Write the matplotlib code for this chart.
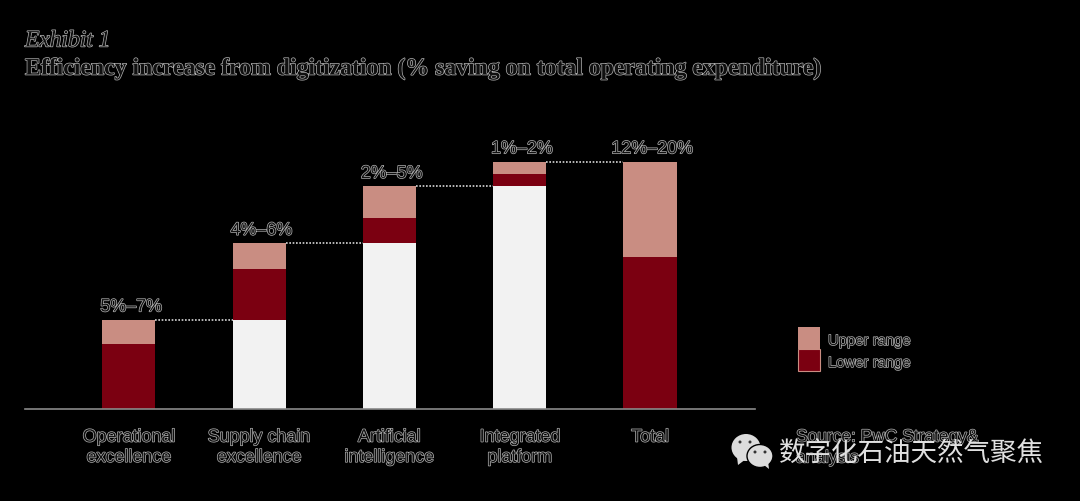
import matplotlib
matplotlib.use('Agg')
import matplotlib.pyplot as plt
import matplotlib.patheffects as pe
from matplotlib.patches import Rectangle, Ellipse, Polygon
import numpy as np

categories = ['Operational\nexcellence', 'Supply chain\nexcellence', 'Artificial\nintelligence',
              'Integrated\nplatform', 'Total']
range_labels = ['5%–7%', '4%–6%', '2%–5%', '1%–2%', '12%–20%']
base = [0, 7.2, 13.4, 18.0, 0]
lower = [5.2, 4.1, 2.0, 1.0, 12.3]
upper = [2.0, 2.1, 2.6, 1.0, 7.7]

DARK_RED = '#7b0011'
LIGHT_RED = '#c98d82'
BASE_GREY = '#f2f2f2'
W, H = 1080, 502

halo = [pe.withStroke(linewidth=1.0, foreground='#b4b4b4')]

fig = plt.figure(figsize=(W / 100, H / 100), dpi=100, facecolor='black')
ax = fig.add_axes([25 / W, 1 - 409.5 / H, 730 / W, 289 / H], facecolor='black')

x = np.arange(len(categories))
base = np.array(base)
lower = np.array(lower)
upper = np.array(upper)
tops = base + lower + upper
bar_w = 0.407

ax.bar(x[1:4], base[1:4], bar_w, color=BASE_GREY)
ax.bar(x, lower, bar_w, bottom=base, color=DARK_RED)
ax.bar(x, upper, bar_w, bottom=base + lower, color=LIGHT_RED)

# dotted links between the steps
for i in range(len(x) - 1):
    ax.plot([x[i] + bar_w / 2, x[i + 1] - bar_w / 2], [tops[i], tops[i]],
            color='#d8d8d8', lw=1.2, ls=(0, (1, 1)))

for i, lab in enumerate(range_labels):
    ax.annotate(lab, (x[i], tops[i]), xytext=(1.5, 3), textcoords='offset points', ha='center', va='bottom',
                family='Liberation Sans', fontsize=12.9, color='#101010', path_effects=halo)

ax.set_xlim(-0.798, 4.806)
ax.set_ylim(0, 289 / 12.35)
for s in ['top', 'left', 'right']:
    ax.spines[s].set_visible(False)
ax.spines['bottom'].set_color('#8a8a8a')
ax.spines['bottom'].set_linewidth(1.2)
ax.set_yticks([])
ax.set_xticks(x)
ax.set_xticklabels(categories, family='Liberation Sans', fontsize=12.9, color='#101010',
                   path_effects=halo, linespacing=1.25)
ax.tick_params(axis='x', length=0, pad=14.5)

fig.text(25 / W, 1 - 42 / H, 'Exhibit 1', family='Liberation Serif', style='italic', fontsize=16.9,
         color='#101010', va='center', path_effects=halo)
fig.text(25 / W, 1 - 70 / H, 'Efficiency increase from digitization (% saving on total operating expenditure)',
         family='Liberation Serif', weight='bold', fontsize=17.1, color='#101010', va='center', path_effects=halo)

# legend
over = fig.add_axes([0, 0, 1, 1], facecolor='none')
over.set_xlim(0, W)
over.set_ylim(H, 0)
over.axis('off')
over.add_patch(Rectangle((798, 328), 22, 22, fc=LIGHT_RED, ec='none'))
over.add_patch(Rectangle((798, 350), 22, 22, fc=DARK_RED, ec='#c98d82', lw=0.8))
over.text(828, 342, 'Upper range', family='Liberation Sans', fontsize=10.7, color='#101010', va='center', path_effects=halo)
over.text(828, 364, 'Lower range', family='Liberation Sans', fontsize=10.7, color='#101010', va='center', path_effects=halo)

# source note under the watermark
over.text(796, 438, 'Source: PwC Strategy&', family='Liberation Sans', fontsize=12.5, color='#101010', va='center', path_effects=halo)
over.text(796, 459, 'analysis', family='Liberation Sans', fontsize=12.5, color='#101010', va='center', path_effects=halo)

# watermark
over.add_patch(Ellipse((746, 448.5), 29, 27, fc='#dcdcdc', ec='none'))
over.add_patch(Polygon([[737, 458], [738, 466], [746, 460]], fc='#dcdcdc', ec='none'))
over.add_patch(Ellipse((760, 457), 26, 23, fc='#dcdcdc', ec='black', lw=1))
over.add_patch(Polygon([[764, 466], [769, 470], [768, 462]], fc='#dcdcdc', ec='none'))
for cx, cy in [(740, 443), (750, 443), (755, 453), (765, 453)]:
    over.add_patch(Ellipse((cx, cy), 3, 3, fc='#333333', ec='none'))
over.text(779, 453, '数字化石油天然气聚焦', family=['Noto Sans CJK SC', 'DejaVu Sans'], fontsize=19.1,
          color='#e0e0e0', va='center')

fig.savefig('out.png', dpi=100, facecolor='black')
